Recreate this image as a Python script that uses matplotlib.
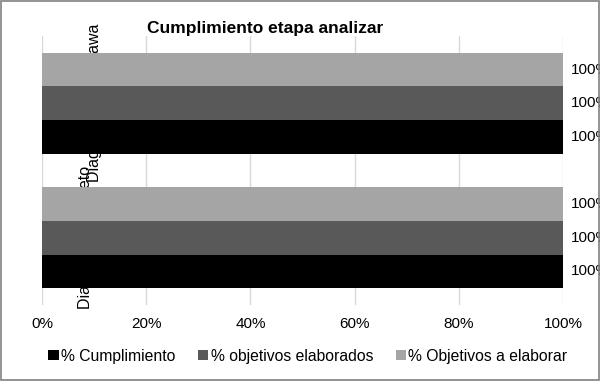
import matplotlib
matplotlib.use("Agg")
import matplotlib.pyplot as plt
from matplotlib.patches import Rectangle, Patch

plt.rcParams['font.family'] = ['Liberation Sans', 'DejaVu Sans']

categories = ["Diagrama de Pareto", "Diagrama de Ishikawa"]
series_names = ["% Cumplimiento", "% objetivos elaborados", "% Objetivos a elaborar"]
cumplimiento = [100, 100]
objetivos_elaborados = [100, 100]
objetivos_a_elaborar = [100, 100]
x_ticks = [0, 20, 40, 60, 80, 100]
x_tick_labels = ["0%", "20%", "40%", "60%", "80%", "100%"]
title = "Cumplimiento etapa analizar"

colors = ["#000000", "#595959", "#a5a5a5"]
series = [cumplimiento, objetivos_elaborados, objetivos_a_elaborar]

W, H = 600, 381
fig = plt.figure(figsize=(6, 3.81), dpi=100)
ax = fig.add_axes([42 / W, 1 - 305 / H, (563 - 42) / W, (305 - 36) / H])

FS = 11
bar_h = 0.25
offsets = [-0.25, 0.0, 0.25]
for vals, col, off, name in zip(series, colors, offsets, series_names):
    ys = [i + off for i in range(len(categories))]
    ax.barh(ys, vals, height=bar_h, color=col, zorder=2, label=name)
    for y, v in zip(ys, vals):
        ax.annotate(f"{v:.0f}%", xy=(v, y), xytext=(5.5, 0), textcoords="offset points",
                    ha="left", va="center", fontsize=FS, color="#000000",
                    annotation_clip=False, zorder=3)

# category labels (rotated, drawn behind bars)
label_x = [8.4, 10.0]
for i, (cat, lx) in enumerate(zip(categories, label_x)):
    ax.text(lx, i, cat, rotation=90, ha="center", va="center", fontsize=11.5,
            color="#000000", zorder=1)

ax.set_xlim(0, 100)
ax.set_ylim(-0.5, len(categories) - 0.5)
ax.set_xticks(x_ticks)
ax.set_xticklabels(x_tick_labels, fontsize=FS)
ax.set_yticks([])
ax.tick_params(axis="x", length=0, pad=9)
for s in ax.spines.values():
    s.set_visible(False)
ax.grid(axis="x", color="#d9d9d9", linewidth=1, zorder=0)
ax.set_axisbelow(True)

fig.text(265 / W, 1 - 28 / H, title, ha="center", va="center",
         fontsize=12.5, fontweight="bold")

handles = [Patch(facecolor=c, edgecolor="none") for c in colors]
fig.legend(handles, series_names, loc="center", bbox_to_anchor=(308 / W, 1 - 356 / H),
           ncol=3, frameon=False, fontsize=11.3, handlelength=0.65, handleheight=0.65,
           handletextpad=0.15, columnspacing=1.45)

fig.patches.append(Rectangle((0.0015, 0.002), 0.997, 0.996, transform=fig.transFigure,
                             fill=False, edgecolor="#808080", linewidth=1.2, zorder=10))

fig.savefig("out.png", dpi=100)
